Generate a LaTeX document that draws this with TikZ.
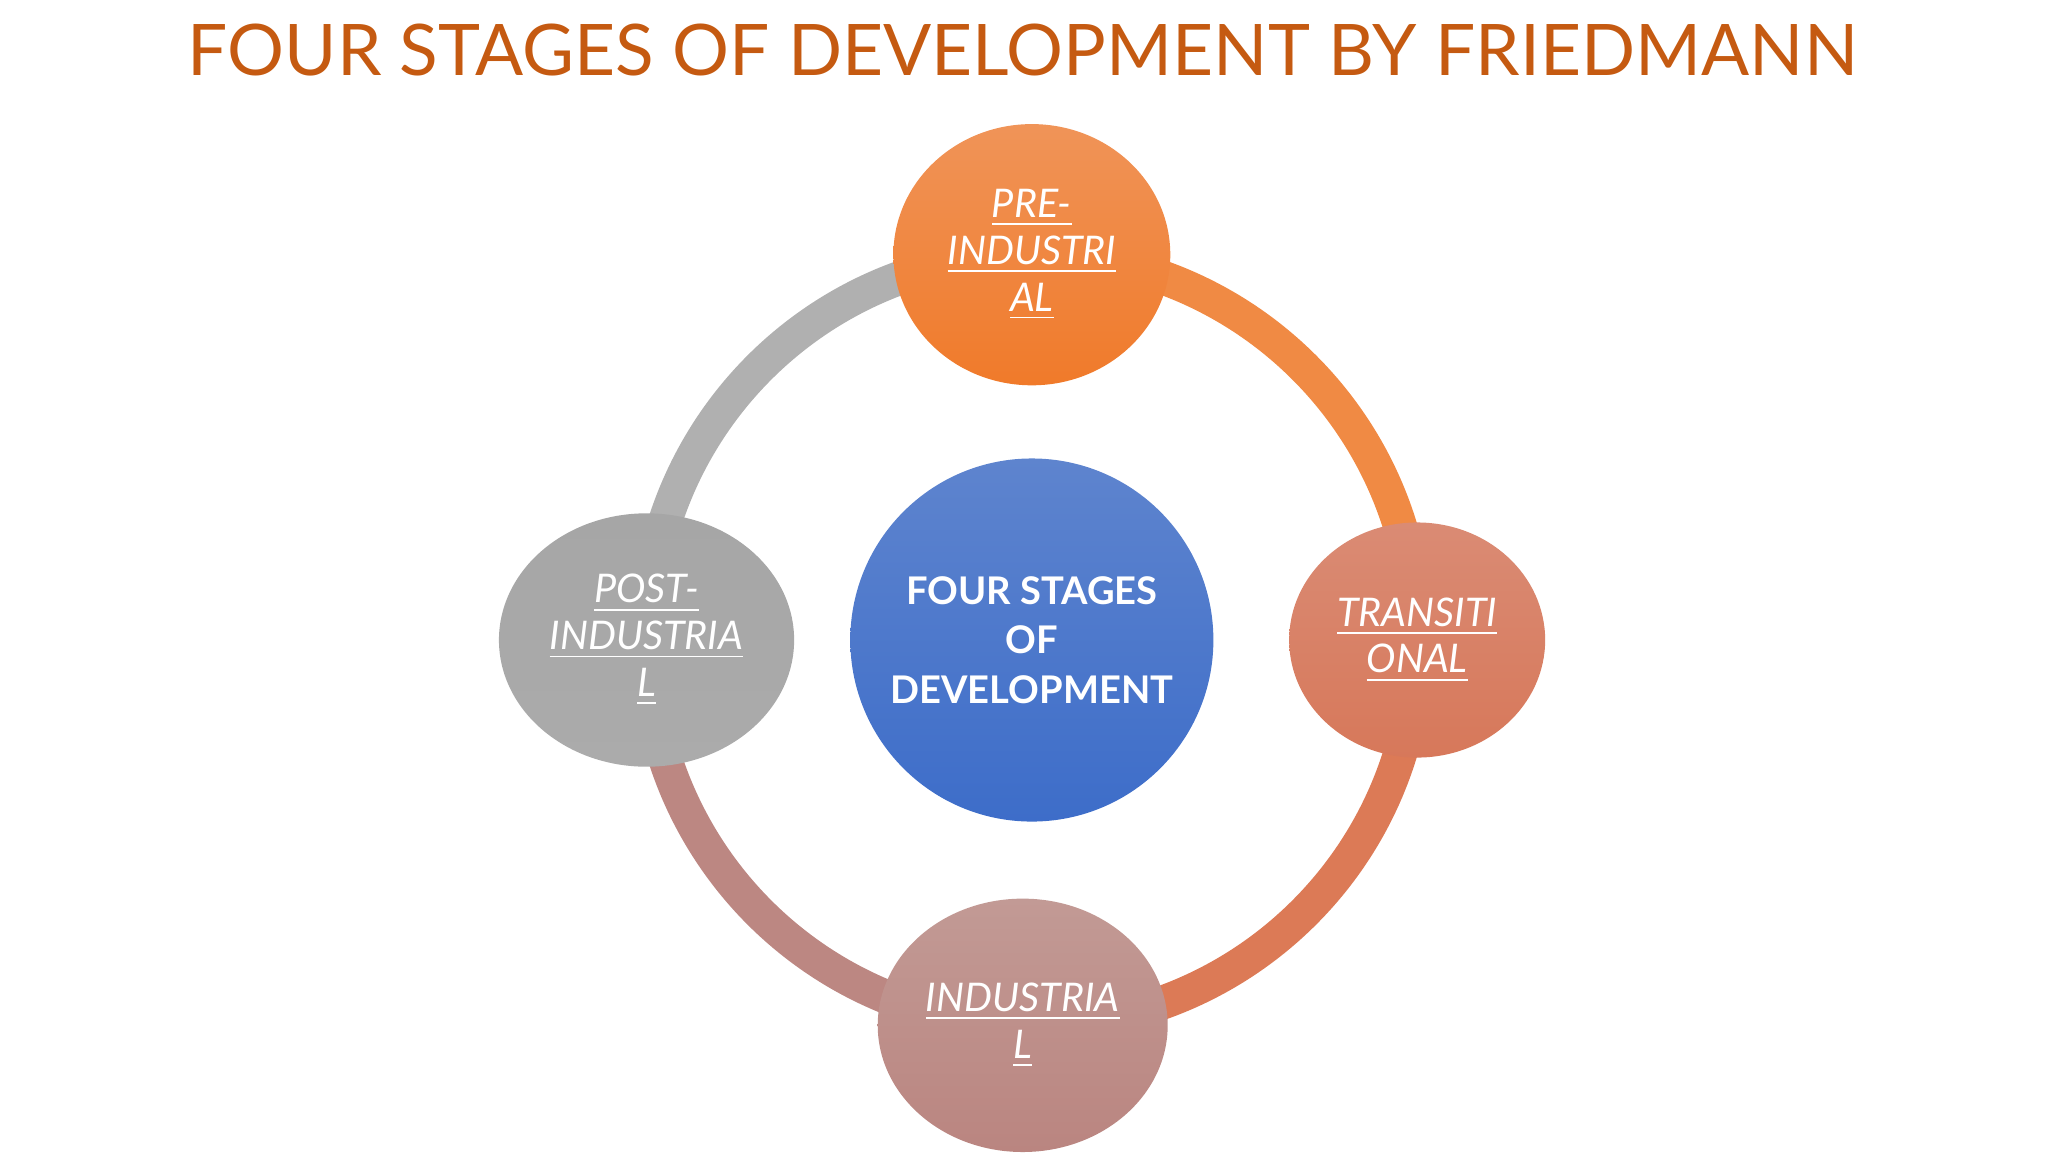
\documentclass[tikz,border=0pt]{standalone}
\usepackage{fontspec}
\setmainfont{Lato}
\definecolor{ttl}{HTML}{C55A11}
\definecolor{arcA}{HTML}{F08A44}
\definecolor{arcB}{HTML}{DC7A56}
\definecolor{arcC}{HTML}{BC8782}
\definecolor{arcD}{HTML}{B0B0B0}
\definecolor{blT}{HTML}{5E84CE}
\definecolor{blB}{HTML}{3D6DC9}
\definecolor{orT}{HTML}{F09458}
\definecolor{orB}{HTML}{F07A2A}
\definecolor{trT}{HTML}{DA8B74}
\definecolor{trB}{HTML}{D7785A}
\definecolor{inT}{HTML}{C29A95}
\definecolor{inB}{HTML}{BA8580}
\definecolor{poT}{HTML}{A6A6A6}
\definecolor{poB}{HTML}{ABABAB}
\tikzset{
 stage/.style={inner sep=0pt, align=center, text=white, font=\fontsize{8.6}{10.2}\selectfont\itshape},
 ring/.style={line width=0.26cm},
}
\newcommand{\ul}[1]{\underline{#1}}
\begin{document}
\begin{tikzpicture}
\useasboundingbox (0,0) rectangle (15.68,8.82);
\node[text=ttl, font=\fontsize{15.5}{18}\selectfont] (title) at (7.83,8.44) {FOUR STAGES OF DEVELOPMENT BY FRIEDMANN};
\coordinate (c) at (7.9,3.92);
\draw[ring, arcA] (c) ++(90:2.95) arc (90:0:2.95);
\draw[ring, arcB] (c) ++(0:2.95) arc (0:-90:2.95);
\draw[ring, arcC] (c) ++(-90:2.95) arc (-90:-180:2.95);
\draw[ring, arcD] (c) ++(180:2.95) arc (180:90:2.95);
\shade[top color=blT, bottom color=blB] (c) circle (1.39);
\node[align=center, text=white, font=\fontsize{8.3}{10.8}\selectfont\bfseries] (center) at (c) {FOUR STAGES\\OF\\DEVELOPMENT};
\shade[top color=orT, bottom color=orB] (7.9,6.87) ellipse (1.06 and 1.0);
\node[stage] (pre) at (7.9,6.87) {\ul{PRE-}\\\ul{INDUSTRI}\\\ul{AL}};
\shade[top color=trT, bottom color=trB] (10.85,3.92) ellipse (0.98 and 0.9);
\node[stage] (tra) at (10.85,3.92) {\ul{TRANSITI}\\\ul{ONAL}};
\shade[top color=inT, bottom color=inB] (7.83,0.97) ellipse (1.11 and 0.97);
\node[stage] (ind) at (7.83,0.97) {\ul{INDUSTRIA}\\\ul{L}};
\shade[top color=poT, bottom color=poB] (4.95,3.92) ellipse (1.13 and 0.97);
\node[stage] (post) at (4.95,3.92) {\ul{POST-}\\\ul{INDUSTRIA}\\\ul{L}};
\end{tikzpicture}
\end{document}
